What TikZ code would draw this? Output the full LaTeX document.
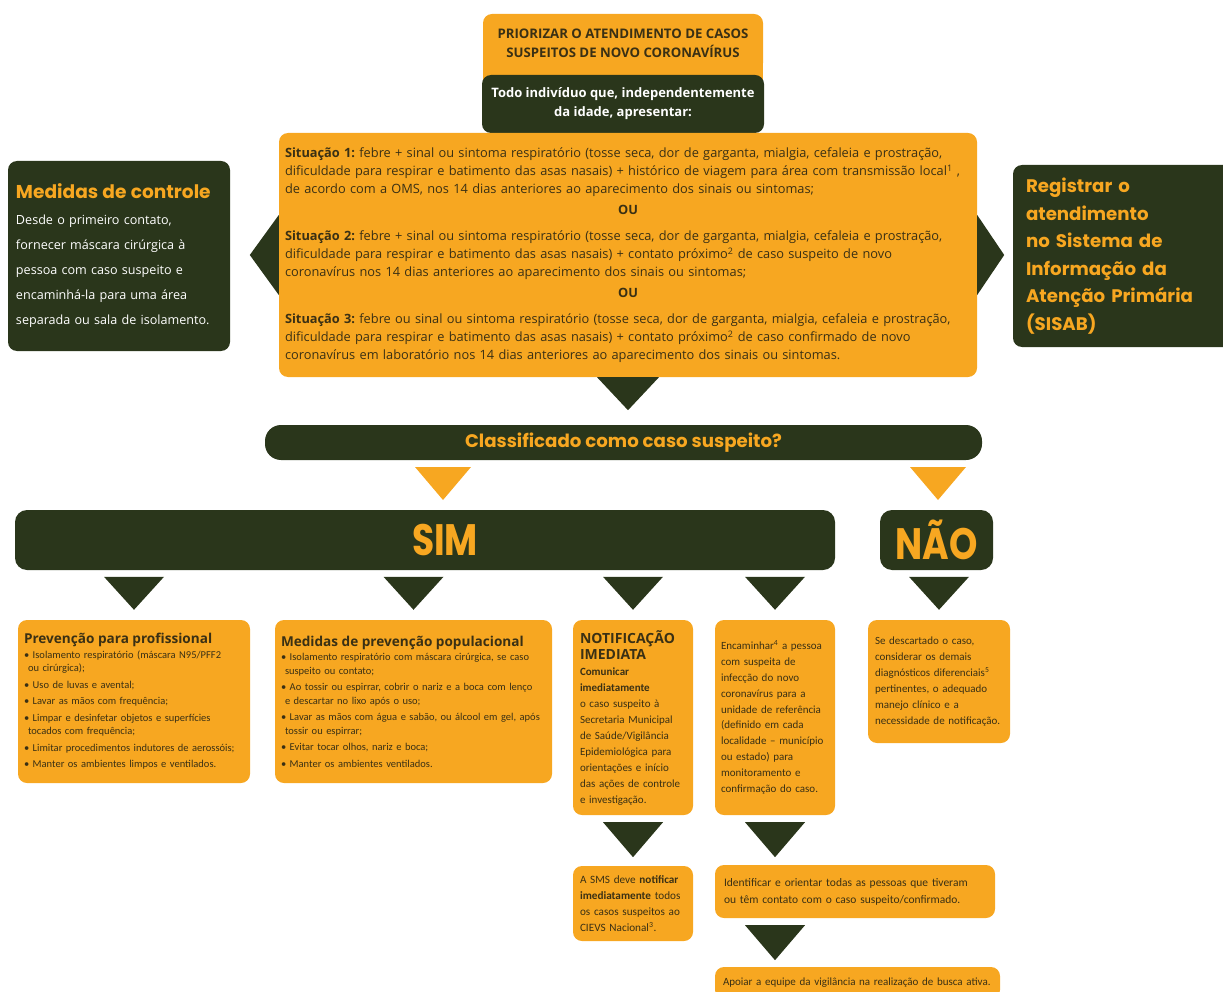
\documentclass[tikz,border=0pt]{standalone}
\usepackage{fontspec}
\usepackage{tikz}
\usetikzlibrary{positioning, calc}
\setmainfont{Open Sans}
\newfontfamily\headfont{Poppins}
\newfontfamily\bigfont{Poppins}[FakeStretch=0.82]
\newfontfamily\smallfont{Carlito}
\definecolor{orng}{RGB}{247, 167, 33}
\definecolor{dark}{RGB}{42, 54, 27}
\definecolor{ink}{RGB}{58, 48, 20}
\frenchspacing

\tikzset{
  obox/.style={fill=orng, rounded corners=9pt, inner sep=0pt, text=ink},
  gbox/.style={fill=dark, rounded corners=9pt, inner sep=0pt},
  small/.style 2 args={font=\smallfont\fontsize{#1}{#2}\selectfont, align=left},
}
\newcommand{\boxhead}{\fontspec{Open Sans}\bfseries\fontsize{13.6}{15}\selectfont}

\begin{document}
\begin{tikzpicture}[x=1pt, y=-1pt]
\useasboundingbox (0,0) rectangle (1223,992);

\node[obox, minimum width=280, minimum height=58, align=center,
  font=\bfseries\fontsize{13.2}{19}\selectfont] (prior) at (623,43)
  {PRIORIZAR O ATENDIMENTO DE CASOS\\SUSPEITOS DE NOVO CORONAVÍRUS};
\fill[orng] ([yshift=8pt]prior.south west) rectangle ([yshift=-10pt]prior.south east);
\node[gbox, minimum width=282, minimum height=58, text=white, align=center,
  font=\bfseries\fontsize{13}{19}\selectfont] (todo) at (623,104)
  {Todo indivíduo que, independentemente\\da idade, apresentar:};

\node[obox, minimum width=698, minimum height=244, text width=686, align=left,
  font=\fontsize{12.8}{18}\selectfont] (sit) at (628,255) {%
  \textbf{Situação 1:} febre + sinal ou sintoma respiratório (tosse seca, dor de garganta, mialgia, cefaleia e prostração,\\
  dificuldade para respirar e batimento das asas nasais) + histórico de viagem para área com transmissão local\textsuperscript{1} ,\\
  de acordo com a OMS, nos 14 dias anteriores ao aparecimento dos sinais ou sintomas;\\[3pt]
  \hfill\textbf{OU}\hfill\null\\[8pt]
  \textbf{Situação 2:} febre + sinal ou sintoma respiratório (tosse seca, dor de garganta, mialgia, cefaleia e prostração,\\
  dificuldade para respirar e batimento das asas nasais) + contato próximo\textsuperscript{2} de caso suspeito de novo\\
  coronavírus nos 14 dias anteriores ao aparecimento dos sinais ou sintomas;\\[3pt]
  \hfill\textbf{OU}\hfill\null\\[8pt]
  \textbf{Situação 3:} febre ou sinal ou sintoma respiratório (tosse seca, dor de garganta, mialgia, cefaleia e prostração,\\
  dificuldade para respirar e batimento das asas nasais) + contato próximo\textsuperscript{2} de caso confirmado de novo\\
  coronavírus em laboratório nos 14 dias anteriores ao aparecimento dos sinais ou sintomas.};

\fill[dark] ([yshift=40pt]sit.west) -- ++(-29,40) -- ([yshift=-40pt]sit.west) -- cycle;
\fill[dark] ([yshift=40pt]sit.east) -- ++(27,40) -- ([yshift=-40pt]sit.east) -- cycle;

\node[gbox, minimum width=222, minimum height=190, text width=206, align=left, text=white,
  font=\fontsize{12.6}{25.2}\selectfont] (ctrl) at (119,256) {%
  {\headfont\bfseries\color{orng}\fontsize{18.6}{20}\selectfont Medidas de controle}\\
  Desde o primeiro contato,\\
  fornecer máscara cirúrgica à\\
  pessoa com caso suspeito e\\
  encaminhá-la para uma área\\
  separada ou sala de isolamento.};

\node[gbox, minimum width=222, minimum height=182, text width=196, align=left, text=orng,
  font=\headfont\bfseries\fontsize{18.2}{27.5}\selectfont] (reg) at (1124,256)
  {Registrar o\\atendimento\\no Sistema de\\Informação da\\Atenção Primária\\(SISAB)};

\fill[dark] ([xshift=-31pt]sit.south) -- ([xshift=31pt]sit.south) -- ([yshift=-33pt]sit.south) -- cycle;

\node[gbox, rounded corners=16pt, minimum width=717, minimum height=35, text=orng,
  font=\headfont\bfseries\fontsize{18.2}{20}\selectfont] (clas) at (623.5,442.5)
  {\raisebox{-1pt}{Classificado como caso suspeito?}};

\foreach \x in {443, 938}
  \fill[orng] (\x-28,467) -- (\x+28,467) -- (\x,500) -- cycle;

\node[gbox, rounded corners=12pt, minimum width=820, minimum height=60, text=orng,
  font=\bigfont\bfseries\fontsize{44}{44}\selectfont] (sim) at (425,540) {\hspace*{40pt}SIM};
\node[gbox, rounded corners=12pt, minimum width=113, minimum height=60, text=orng,
  font=\bigfont\bfseries\fontsize{44}{44}\selectfont] (nao) at (936.5,540) {NÃO};

\node[obox, minimum width=232, minimum height=163, text width=220, small={10.5}{13.5}] (prev) at (134,701.5) {%
  {\boxhead Prevenção para profissional}\\[1pt]
  • Isolamento respiratório (máscara N95/PFF2\\
  \hspace*{4pt}ou cirúrgica);\\[3pt]
  • Uso de luvas e avental;\\[3pt]
  • Lavar as mãos com frequência;\\[3pt]
  • Limpar e desinfetar objetos e superfícies\\
  \hspace*{4pt}tocados com frequência;\\[3pt]
  • Limitar procedimentos indutores de aerossóis;\\[3pt]
  • Manter os ambientes limpos e ventilados.};

\node[obox, minimum width=277, minimum height=163, text width=265, small={10.5}{13.5}] (pop) at (413.5,701.5) {%
  {\boxhead Medidas de prevenção populacional}\\[1pt]
  • Isolamento respiratório com máscara cirúrgica, se caso\\
  \hspace*{4pt}suspeito ou contato;\\[3pt]
  • Ao tossir ou espirrar, cobrir o nariz e a boca com lenço\\
  \hspace*{4pt}e descartar no lixo após o uso;\\[3pt]
  • Lavar as mãos com água e sabão, ou álcool em gel, após\\
  \hspace*{4pt}tossir ou espirrar;\\[3pt]
  • Evitar tocar olhos, nariz e boca;\\[3pt]
  • Manter os ambientes ventilados.};

\node[obox, minimum width=120, minimum height=195, text width=106, small={11}{16}] (notif) at (633,717.5) {%
  {\fontspec{Open Sans}\bfseries\fontsize{14}{19}\selectfont NOTIFICAÇÃO\\IMEDIATA}\\
  \textbf{Comunicar}\\
  \textbf{imediatamente}\\
  o caso suspeito à\\
  Secretaria Municipal\\
  de Saúde/Vigilância\\
  Epidemiológica para\\
  orientações e início\\
  das ações de controle\\
  e investigação.};

\node[obox, minimum width=120, minimum height=195, text width=108, small={11}{15.8}] (enc) at (775,717.5) {%
  Encaminhar\textsuperscript{4} a pessoa\\
  com suspeita de\\
  infecção do novo\\
  coronavírus para a\\
  unidade de referência\\
  (definido em cada\\
  localidade – município\\
  ou estado) para\\
  monitoramento e\\
  confirmação do caso.};

\node[obox, minimum width=142, minimum height=123, text width=128, small={11}{16}] (desc) at (939,681.5) {%
  Se descartado o caso,\\
  considerar os demais\\
  diagnósticos diferenciais\textsuperscript{5}\\
  pertinentes, o adequado\\
  manejo clínico e a\\
  necessidade de notificação.};

\foreach \n in {prev, pop, notif, enc, desc}
  \fill[dark] ([shift={(-30,-43)}]\n.north) -- ([shift={(30,-43)}]\n.north) -- ([shift={(0,-10)}]\n.north) -- cycle;

\node[obox, minimum width=120, minimum height=75, text width=106, small={11.2}{16}] (sms) at (633,903.5) {%
  A SMS deve \textbf{notificar}\\
  \textbf{imediatamente} todos\\
  os casos suspeitos ao\\
  CIEVS Nacional\textsuperscript{3}.};

\node[obox, minimum width=280, minimum height=53, text width=262, small={11.5}{17}] (ident) at (855,891.5) {%
  Identificar e orientar todas as pessoas que tiveram\\
  ou têm contato com o caso suspeito/confirmado.};

\node[obox, minimum width=285, minimum height=32, text width=269, small={11}{14}] (apoio) at (857.5,983)
  {Apoiar a equipe da vigilância na realização de busca ativa.};

\foreach \n in {notif, enc}
  \fill[dark] ([shift={(-30,7)}]\n.south) -- ([shift={(30,7)}]\n.south) -- ([shift={(0,42)}]\n.south) -- cycle;
\fill[dark] ($(enc.south |- ident.south) + (-30,7)$) -- ++(60,0) -- ++(-30,35) -- cycle;
\end{tikzpicture}
\end{document}
